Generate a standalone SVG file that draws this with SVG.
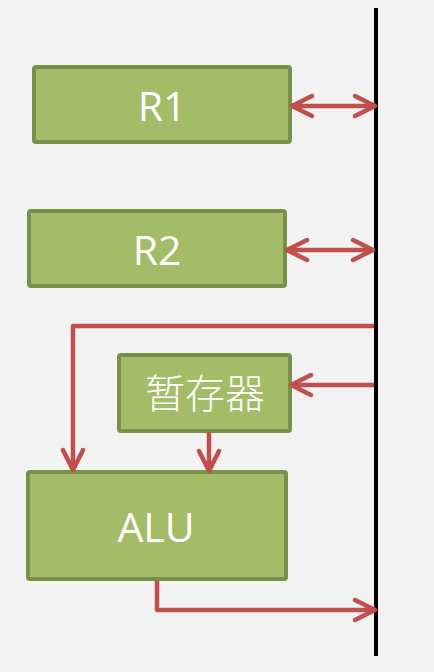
<svg xmlns="http://www.w3.org/2000/svg" width="434" height="672" viewBox="0 0 434 672">
<style>
.box{fill:#A2BC67;stroke:#7A8F4A;stroke-width:4;}
.lbl{fill:#FFFFFF;font-family:"Open Sans","Liberation Sans","Noto Sans CJK SC",sans-serif;font-size:41px;text-anchor:middle;}
.cjk{font-family:"Noto Sans CJK SC",sans-serif;font-size:40px;font-weight:300;}
.con{fill:none;stroke:#C0504D;stroke-width:4.5;stroke-linejoin:round;}
</style>
<defs>
<marker id="ah" markerUnits="userSpaceOnUse" viewBox="-24 -13 28 26" markerWidth="28" markerHeight="26" refX="0" refY="0" orient="auto-start-reverse">
<path d="M-20,-10 L0,0 L-20,10" fill="none" stroke="#C0504D" stroke-width="4.5" stroke-linecap="round" stroke-linejoin="round"/>
</marker>
</defs>
<rect width="434" height="672" fill="#F2F2F2"/>
<g id="bus">
<line x1="376" y1="8" x2="376" y2="656" stroke="#000" stroke-width="4"/>
</g>
<g id="R1">
<rect class="box" x="34" y="67" width="256" height="75" rx="2"/>
<text class="lbl" x="162" y="121">R1</text>
</g>
<g id="R2">
<rect class="box" x="29" y="211" width="256" height="75" rx="2"/>
<text class="lbl" x="157" y="265">R2</text>
</g>
<g id="temp">
<rect class="box" x="119" y="355" width="171" height="76" rx="2"/>
<text class="lbl cjk" x="205" y="408">暂存器</text>
</g>
<g id="ALU">
<rect class="box" x="28" y="472" width="258" height="107" rx="2"/>
<text class="lbl" x="156" y="542">ALU</text>
</g>
<g id="connectors">
<path class="con" d="M292,106 L375,106" marker-start="url(#ah)" marker-end="url(#ah)"/>
<path class="con" d="M287,250 L373,250" marker-start="url(#ah)" marker-end="url(#ah)"/>
<path class="con" d="M374,326 L73,326 L73,470" marker-end="url(#ah)"/>
<path class="con" d="M374,385 L291,385" marker-end="url(#ah)"/>
<path class="con" d="M209,432 L209,471" marker-end="url(#ah)"/>
<path class="con" d="M157,581 L157,610 L375,610" marker-end="url(#ah)"/>
</g>
</svg>
